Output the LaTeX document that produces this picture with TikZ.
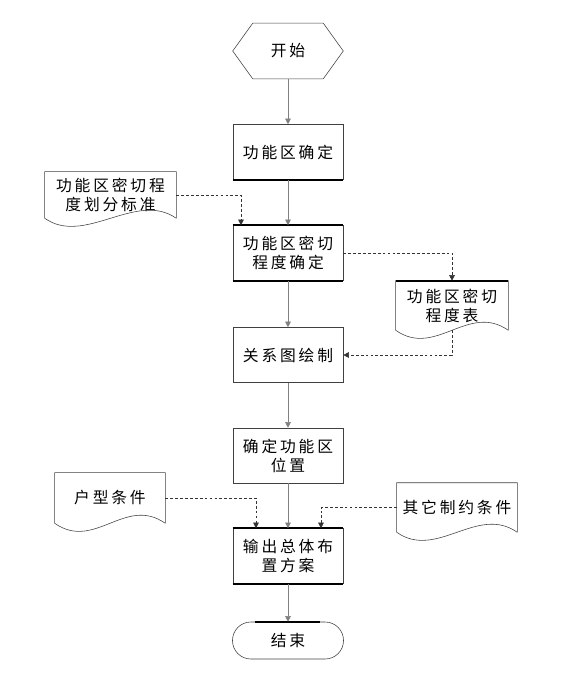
\documentclass[tikz,border=0pt]{standalone}
\usepackage{fontspec}
\newfontfamily\zh[LetterSpace=18]{Noto Sans CJK SC}
\usetikzlibrary{arrows.meta,calc}

\tikzset{
  box/.style={draw=black!75, minimum width=2.75cm, minimum height=1.375cm, inner sep=0pt, align=center, font={\zh\fontsize{11.2}{13.5}\selectfont}},
  plain/.style={box, draw=none},
  outline/.style={draw=black!75},
  heavy/.style={line width=1.4pt, black},
  flow/.style={draw=gray, -{Triangle[length=4pt,width=4pt]}},
  aux/.style={draw=black!80, dash pattern=on 2pt off 1.5pt, -{Triangle[length=4pt,width=4pt]}}
}

\begin{document}
\begin{tikzpicture}[x=0.025cm, y=-0.025cm]
\useasboundingbox (0,0) rectangle (581,678);
% main column
\node[plain] (start) at (288,51) {开始};
\draw[outline] (start.west) -- ($(start.north west)+(20,0)$) -- ($(start.north east)+(-20,0)$) -- (start.east)
  -- ($(start.south east)+(-20,0)$) -- ($(start.south west)+(20,0)$) -- cycle;
\node[box] (fix) at (288,152) {功能区确定};
\node[box] (rate) at (288,253) {功能区密切\\程度确定};
\node[box] (graph) at (288,355) {关系图绘制};
\node[box] (place) at (288,455.5) {确定功能区\\位置};
\node[box] (plan) at (288,556) {输出总体布\\置方案};
\node[box, minimum height=0.925cm, minimum width=2.775cm, rounded corners=0.46cm] (stop) at (288,640.5) {结束};
% documents
\node[plain, minimum width=3.275cm, minimum height=1.15cm] (std) at (110.5,195) {功能区密切程\\度划分标准};
\node[plain, minimum width=2.8cm, minimum height=1.225cm] (tab) at (452,305.5) {功能区密切\\程度表};
\node[plain, minimum width=2.75cm, minimum height=1.25cm] (hx) at (110,498) {户型条件};
\node[plain, minimum width=3cm, minimum height=1.225cm] (ys) at (457,507.5) {其它制约条件};
\foreach \d in {std,tab,hx,ys}
  \draw[outline] (\d.south east) -- (\d.north east) -- (\d.north west) -- (\d.south west)
    .. controls +(40,28) and +(-40,-28) .. (\d.south east);
% heavy edges
\draw[heavy] (fix.south west) -- (fix.south east);
\draw[heavy] (rate.north west) -- (rate.north east);
\draw[heavy] (rate.south west) -- (rate.south east);
\draw[heavy] (plan.north west) -- (plan.north east);
\draw[heavy] (plan.south west) -- (plan.south east);
\draw[heavy] (tab.north west) -- (tab.north east);
\draw[heavy] ($(stop.north)+(-33,0)$) -- ($(stop.north)+(32,0)$);
% connectors
\draw[flow] (start) -- (fix);
\draw[flow] (fix) -- (rate);
\draw[flow] (rate) -- (graph);
\draw[flow] (graph) -- (place);
\draw[flow] (place) -- (plan);
\draw[flow] (plan) -- (stop);
\draw[aux] (std.east) -| ($(rate.north)+(-47,0)$);
\draw[aux] (rate.east) -| (tab.north);
\draw[aux] (tab.south) |- (graph.east);
\draw[aux] (hx.east) -| ($(plan.north)+(-32,0)$);
\draw[aux] (ys.west) -| ($(plan.north)+(33,0)$);
\end{tikzpicture}
\end{document}
